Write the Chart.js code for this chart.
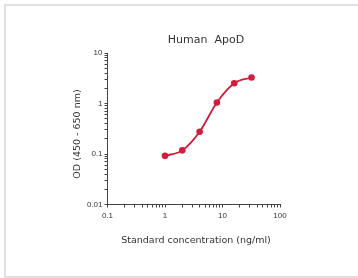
<!DOCTYPE html>
<html>
<head>
<meta charset="utf-8">
<script src="https://cdn.jsdelivr.net/npm/chart.js@4"></script>
<style>
  body { margin: 0; background: #fff; }
  #frame { position: absolute; left: 4px; top: 4px; width: 360px; height: 270px; border: 2px solid #e0e0e0; }
  #chart { position: absolute; left: 0; top: 0; }
</style>
</head>
<body>
<div id="frame"></div>
<canvas id="chart" width="358" height="278"></canvas>
<script>
// Dados da curva padrão
const concentrations = [1, 2, 4, 8, 16, 32];
const odValues = [0.092, 0.118, 0.276, 1.05, 2.52, 3.27];

// Décadas dos eixos (escala log)
const xDecades = [0.1, 1, 10, 100];
const yDecades = [0.01, 0.1, 1, 10];

const chartTitle = 'Human  ApoD';
const xAxisTitle = 'Standard concentration (ng/ml)';
const yAxisTitle = 'OD (450 - 650 nm)';

// Gera marcas principais + secundárias (2..9) entre as décadas
function logTicks(decades) {
    const ticks = [];
    decades.forEach((d, i) => {
        ticks.push({ value: d, major: true });
        if (i < decades.length - 1) {
            for (let k = 2; k <= 9; k++) ticks.push({ value: +(d * k).toPrecision(3), major: false });
        }
    });
    return ticks;
}

function decadeLabel(value, decades) {
    return decades.includes(value) ? String(value) : '';
}

// Textos (título e títulos dos eixos) desenhados na posição do original
const textPlugin = {
    id: 'textLabels',
    afterDraw(chart) {
        const ctx = chart.ctx;
        ctx.save();
        ctx.fillStyle = '#333';
        ctx.textAlign = 'center';
        ctx.textBaseline = 'middle';
        ctx.font = "11px 'DejaVu Sans', sans-serif";
        ctx.fillText(chartTitle, 206, 40);
        ctx.font = "9.5px 'DejaVu Sans', sans-serif";
        ctx.fillText(xAxisTitle, 196, 241);
        ctx.translate(77.5, 134);
        ctx.rotate(-Math.PI / 2);
        ctx.fillText(yAxisTitle, 0, 0);
        ctx.restore();
    }
};

const red = '#cf1d3a';
const axisColor = '#444';
const tickFont = { family: "'Liberation Sans', Arial, sans-serif", size: 8 };

new Chart(document.getElementById('chart'), {
    type: 'line',
    data: {
        datasets: [{
            data: concentrations.map((c, i) => ({ x: c, y: odValues[i] })),
            borderColor: red,
            backgroundColor: red,
            borderWidth: 1.8,
            pointRadius: 3.3,
            pointBorderWidth: 0,
            cubicInterpolationMode: 'monotone',
            fill: false
        }]
    },
    options: {
        responsive: false,
        animation: false,
        layout: { padding: { left: 10, top: 53, right: 78, bottom: 10 } },
        plugins: { legend: { display: false }, title: { display: false }, tooltip: { enabled: false } },
        scales: {
            x: {
                type: 'logarithmic',
                min: 0.1,
                max: 100,
                afterBuildTicks: (scale) => { scale.ticks = logTicks(xDecades); },
                afterFit: (scale) => { scale.height = 63.5; },
                grid: { drawOnChartArea: false, drawTicks: true, tickLength: 3, tickColor: axisColor },
                border: { display: true, color: axisColor, width: 1 },
                ticks: {
                    autoSkip: false,
                    maxRotation: 0,
                    padding: 3,
                    color: '#333',
                    font: tickFont,
                    callback: (v) => decadeLabel(v, xDecades)
                }
            },
            y: {
                type: 'logarithmic',
                min: 0.01,
                max: 10,
                afterBuildTicks: (scale) => { scale.ticks = logTicks(yDecades); },
                afterFit: (scale) => { scale.width = 97.5; },
                grid: { drawOnChartArea: false, drawTicks: true, tickLength: 3, tickColor: axisColor },
                border: { display: true, color: axisColor, width: 1 },
                ticks: {
                    autoSkip: false,
                    padding: 2,
                    color: '#333',
                    font: tickFont,
                    callback: (v) => decadeLabel(v, yDecades)
                }
            }
        }
    },
    plugins: [textPlugin]
});
</script>
</body>
</html>
